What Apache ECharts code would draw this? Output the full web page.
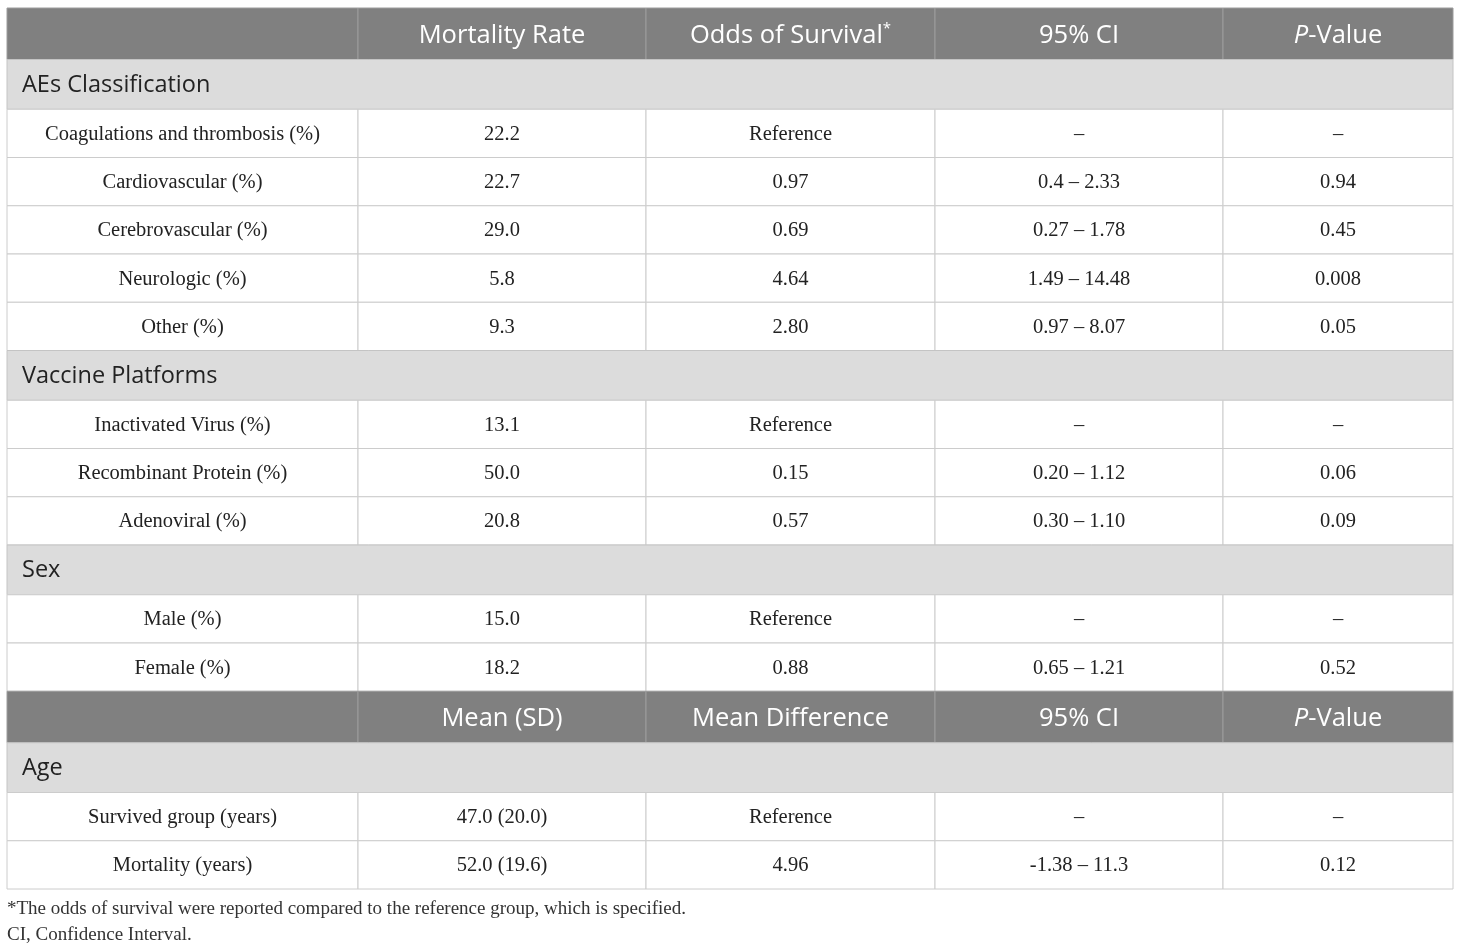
<!DOCTYPE html>
<html>
<head>
<meta charset="utf-8">
<script src="https://cdn.jsdelivr.net/npm/echarts@6/dist/echarts.min.js"></script>
<style>
html,body{margin:0;padding:0;background:#fff;}
#main{width:1460px;height:949px;}
</style>
</head>
<body>
<div id="main"></div>
<script>
// table content
var headerTop = ['', 'Mortality Rate', 'Odds of Survival{sup|*}', '95% CI', '{it|P}-Value'];
var headerAge = ['', 'Mean (SD)', 'Mean Difference', '95% CI', '{it|P}-Value'];

var aeLabels = ['Coagulations and thrombosis (%)', 'Cardiovascular (%)', 'Cerebrovascular (%)', 'Neurologic (%)', 'Other (%)'];
var aeMortality = ['22.2', '22.7', '29.0', '5.8', '9.3'];
var aeOdds = ['Reference', '0.97', '0.69', '4.64', '2.80'];
var aeCI = ['–', '0.4 – 2.33', '0.27 – 1.78', '1.49 – 14.48', '0.97 – 8.07'];
var aeP = ['–', '0.94', '0.45', '0.008', '0.05'];

var vacLabels = ['Inactivated Virus (%)', 'Recombinant Protein (%)', 'Adenoviral (%)'];
var vacMortality = ['13.1', '50.0', '20.8'];
var vacOdds = ['Reference', '0.15', '0.57'];
var vacCI = ['–', '0.20 – 1.12', '0.30 – 1.10'];
var vacP = ['–', '0.06', '0.09'];

var sexLabels = ['Male (%)', 'Female (%)'];
var sexMortality = ['15.0', '18.2'];
var sexOdds = ['Reference', '0.88'];
var sexCI = ['–', '0.65 – 1.21'];
var sexP = ['–', '0.52'];

var ageLabels = ['Survived group (years)', 'Mortality (years)'];
var ageMean = ['47.0 (20.0)', '52.0 (19.6)'];
var ageDiff = ['Reference', '4.96'];
var ageCI = ['–', '-1.38 – 11.3'];
var ageP = ['–', '0.12'];

var footnotes = ['*The odds of survival were reported compared to the reference group, which is specified.', 'CI, Confidence Interval.'];

// layout
var colWidths = [351, 288, 289, 288, 230];
var rowHeight = {header: 51.5, section: 49.75, data: 48.25};

var rows = [];
function addSection(name, labels, c1, c2, c3, c4){
    rows.push({kind: 'section', cells: [name]});
    for (var i = 0; i < labels.length; i++) {
        rows.push({kind: 'data', cells: [labels[i], c1[i], c2[i], c3[i], c4[i]]});
    }
}
rows.push({kind: 'header', cells: headerTop});
addSection('AEs Classification', aeLabels, aeMortality, aeOdds, aeCI, aeP);
addSection('Vaccine Platforms', vacLabels, vacMortality, vacOdds, vacCI, vacP);
addSection('Sex', sexLabels, sexMortality, sexOdds, sexCI, sexP);
rows.push({kind: 'header', cells: headerAge});
addSection('Age', ageLabels, ageMean, ageDiff, ageCI, ageP);

var colEdges = [0];
colWidths.forEach(function(w){ colEdges.push(colEdges[colEdges.length - 1] + w); });
var totalW = colEdges[colEdges.length - 1];

var cellData = [];
var y = 0;
rows.forEach(function(r){
    var h = rowHeight[r.kind];
    if (r.kind === 'section') {
        cellData.push([0, totalW, y, y + h, r.kind, r.cells[0]]);
    } else {
        for (var c = 0; c < r.cells.length; c++) {
            cellData.push([colEdges[c], colEdges[c + 1], y, y + h, r.kind, r.cells[c]]);
        }
    }
    y += h;
});
var totalH = y;

var styles = {
    header: {fill: '#808080', stroke: '#9c9c9c', color: '#ffffff', font: 'Open Sans', size: 25.5, dy: 1.5},
    section: {fill: '#dcdcdc', stroke: '#c4c4c4', color: '#222222', font: 'Open Sans', size: 23.5, dy: 0.5},
    data: {fill: '#ffffff', stroke: '#cccccc', color: '#222222', font: 'Liberation Serif', size: 20.5, dy: 1}
};

var noteStyle = {fontFamily: 'Liberation Serif', fontSize: 19, fontWeight: 'normal', color: '#333'};

var chart = echarts.init(document.getElementById('main'));
chart.setOption({
    animation: false,
    title: [
        {text: footnotes[0], left: 7, top: 900, padding: 0, textStyle: noteStyle},
        {text: footnotes[1], left: 7, top: 926, padding: 0, textStyle: noteStyle}
    ],
    grid: {left: 7, right: 7, top: 8, bottom: 949 - 889},
    xAxis: {type: 'value', min: 0, max: totalW, show: false},
    yAxis: {type: 'value', min: 0, max: totalH, inverse: true, show: false},
    series: [{
        type: 'custom',
        data: cellData,
        renderItem: function(params, api){
            var d = cellData[params.dataIndex];
            var p0 = api.coord([d[0], d[2]]);
            var p1 = api.coord([d[1], d[3]]);
            var st = styles[d[4]];
            var isSection = d[4] === 'section';
            return {
                type: 'group',
                children: [{
                    type: 'rect',
                    shape: {x: p0[0], y: p0[1], width: p1[0] - p0[0], height: p1[1] - p0[1]},
                    style: {fill: st.fill, stroke: st.stroke, lineWidth: 1}
                }, {
                    type: 'text',
                    x: isSection ? p0[0] + 15 : (p0[0] + p1[0]) / 2,
                    y: (p0[1] + p1[1]) / 2 + st.dy,
                    style: {
                        text: d[5],
                        fill: st.color,
                        fontFamily: st.font,
                        fontSize: st.size,
                        align: isSection ? 'left' : 'center',
                        verticalAlign: 'middle',
                        rich: {
                            sup: {fontSize: 15, fill: st.color, fontFamily: st.font, padding: [0, 0, 13, 0]},
                            it: {fontStyle: 'italic', fontSize: st.size, fill: st.color, fontFamily: st.font}
                        }
                    }
                }]
            };
        }
    }]
});
</script>
</body>
</html>
